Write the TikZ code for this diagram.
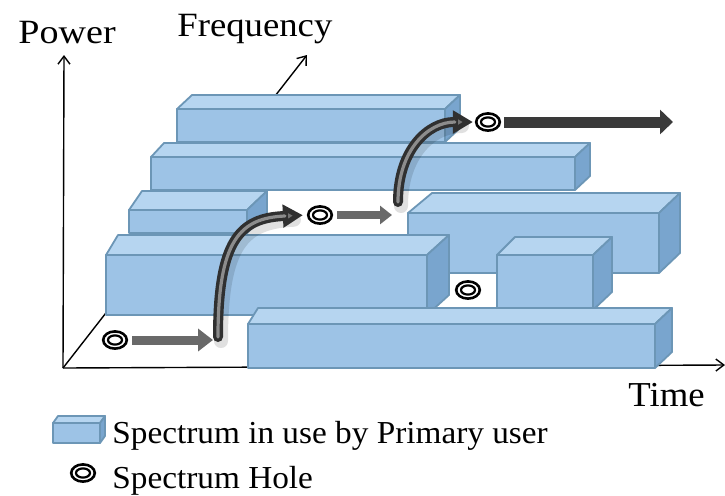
\documentclass[tikz,border=0pt]{standalone}
\usepackage{fontspec}
\usepackage{graphicx}
\setmainfont{Liberation Serif}
\usetikzlibrary{arrows.meta,shapes.geometric}
\definecolor{bfront}{RGB}{157,195,230}
\definecolor{btop}{RGB}{182,213,240}
\definecolor{bside}{RGB}{121,165,206}
\definecolor{bedge}{RGB}{108,150,182}
\definecolor{tubedark}{RGB}{48,48,48}
\definecolor{tubelight}{RGB}{140,140,140}
\definecolor{flatgray}{RGB}{105,105,105}
\definecolor{flatdark}{RGB}{58,58,58}
\newcommand\specbox[7]{%
  \path[boxtop] (#1,#3) -- (#1+#6,#3-#5) -- (#2+#7,#3-#5) -- (#2,#3) -- cycle;
  \path[boxside] (#2,#3) -- (#2+#7,#3-#5) -- (#2+#7,#4-#5) -- (#2,#4) -- cycle;
  \path[boxfront] (#1,#3) rectangle (#2,#4);
}
\tikzset{
  boxtop/.style={fill=btop,draw=bedge,line width=0.9pt,line join=round},
  boxside/.style={fill=bside,draw=bedge,line width=0.9pt,line join=round},
  boxfront/.style={fill=bfront,draw=bedge,line width=0.9pt,line join=round},
  axisline/.style={line width=0.7pt,-{Straight Barb[length=4pt,width=6pt]}},
  hole/.style={ellipse,draw=black,fill=white,line width=1.3pt,minimum width=11.8pt,minimum height=8.6pt,inner sep=0pt,
    path picture={\draw[line width=1.1pt] (path picture bounding box.center) ellipse (3.5pt and 2.3pt);}},
  flatA/.style={flatgray,line width=4.5pt,-{Triangle[length=7.5pt,width=11pt]}},
  flatB/.style={flatgray,line width=4pt,-{Triangle[length=6pt,width=9pt]}},
  flatC/.style={flatdark,line width=5.5pt,-{Triangle[length=6.5pt,width=12pt]}},
  tubeshadow/.style={black,opacity=0.12,line width=7pt,line cap=round},
  tubeouter/.style={tubedark,line width=5pt,line cap=round,-{Triangle[length=10pt,width=11pt,fill=black!55]}},
  tubeinner/.style={tubelight,line width=1.6pt,line cap=round},
  lbl/.style={inner sep=0pt,anchor=base west,text=black}
}
\begin{document}
\begin{tikzpicture}[x=0.5pt,y=-0.5pt]
\useasboundingbox (0,0) rectangle (725,495);
% axes
\coordinate (O) at (63,368);
\coordinate (P) at (64,55);
\coordinate (T) at (725,365);
\coordinate (F) at (307,55);
\draw[axisline] (O) -- (P);
\draw[axisline] (O) -- (T);
\draw[axisline] (O) -- (F);
% boxes (back to front)
\specbox{177}{445}{109}{142}{14}{15}{15}
\specbox{151}{575}{157}{190}{14}{13}{15}
\specbox{129}{247}{210}{233}{19}{13}{20}
\specbox{408}{659}{213}{273}{20}{24}{21}
\specbox{106}{427}{255}{315}{20}{12}{22}
\specbox{497}{593}{255}{310}{18}{18}{19}
\specbox{248}{655}{324}{368}{16}{10}{17}
% spectrum holes
\node[hole] (h1) at (115,340) {};
\node[hole] (h2) at (320,215) {};
\node[hole] (h3) at (488,122) {};
\node[hole] (h4) at (468,290) {};
% arrows
\coordinate (c1) at (213,340);
\coordinate (c2) at (392,215);
\coordinate (c3) at (673,122);
\coordinate (s1) at (218,337);
\coordinate (s2) at (398,202);
\draw[flatA,shorten <=2pt] (h1) -- (c1);
\draw[flatB,shorten <=2pt] (h2) -- (c2);
\draw[flatC,shorten <=1.5pt] (h3) -- (c3);
\draw[tubeshadow,shorten >=8pt] ([shift={(3,4)}]s1) .. controls (221,244) and (243,222) .. ([shift={(3,4)}]h2.west);
\draw[tubeouter,shorten >=2pt] (s1) .. controls (218,240) and (240,218) .. (h2.west);
\draw[tubeinner,shorten >=11pt] (s1) .. controls (218,240) and (240,218) .. (h2.west);
\draw[tubeshadow,shorten >=8pt] ([shift={(3,4)}]s2) .. controls (401,154) and (431,126) .. ([shift={(3,4)}]h3.west);
\draw[tubeouter,shorten >=1pt] (s2) .. controls (398,150) and (428,122) .. (h3.west);
\draw[tubeinner,shorten >=10pt] (s2) .. controls (398,150) and (428,122) .. (h3.west);
% labels
\node[lbl,font=\fontsize{17}{20}\selectfont] (power) at (18,43) {\scalebox{1.12}[1]{Power}};
\node[lbl,font=\fontsize{17}{20}\selectfont] (freq) at (177,36) {\scalebox{1.08}[1]{Frequency}};
\node[lbl,font=\fontsize{17.5}{20}\selectfont] (time) at (628,406) {\scalebox{1.05}[1]{Time}};
% legend
\specbox{53}{100}{423}{443}{7}{5}{5}
\node[lbl,font=\fontsize{16}{19}\selectfont] (leg1) at (112,443) {\scalebox{1.04}[1]{Spectrum in use by Primary user}};
\node[hole] (lh) at (83,473) {};
\node[lbl,font=\fontsize{16}{19}\selectfont] (leg2) at (112,488) {\scalebox{1.04}[1]{Spectrum Hole}};
\end{tikzpicture}
\end{document}
